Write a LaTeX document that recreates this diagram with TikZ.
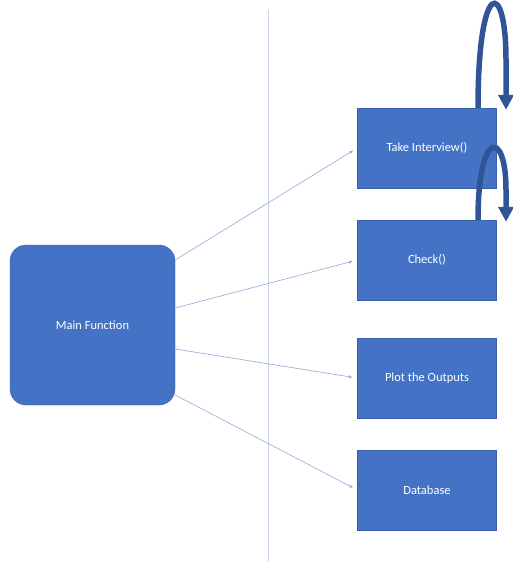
\documentclass[tikz,border=0pt]{standalone}
\usepackage{fontspec}
\setmainfont{Carlito}
\usetikzlibrary{positioning, arrows.meta}
\usepackage{xcolor}
\definecolor{officeBlue}{HTML}{4472C4}
\definecolor{officeDark}{HTML}{2F5597}
\definecolor{linkGrey}{HTML}{8FA9D6}
\definecolor{sepGrey}{HTML}{C9D3E3}

\begin{document}
\begin{tikzpicture}[
    x=1pt, y=-1pt,
    >={Stealth[length=4pt,width=3pt]},
    fnbox/.style={fill=officeBlue, draw=officeBlue!85!black, line width=0.4pt, minimum width=139pt, minimum height=80pt, text=white, font=\fontsize{12.5}{15}\selectfont, inner sep=0pt},
    mainbox/.style={fnbox, rounded corners=16pt, minimum width=165pt, minimum height=160pt},
    link/.style={->, draw=linkGrey, line width=0.6pt, shorten >=5pt},
    loop/.style={-{Triangle[length=15pt,width=15pt]}, draw=officeDark, fill=none, line width=5.5pt}
]
    \useasboundingbox (0,0) rectangle (513,562);

    % separator
    \coordinate (sepTop) at (268,10);
    \coordinate (sepBot) at (268,562);
    \draw[sepGrey, line width=0.6pt] (sepTop) -- (sepBot);

    \node[mainbox] (main) at (92.5,325) {Main Function};
    \node[fnbox] (interview) at (427,148) {Take Interview()};
    \node[fnbox] (check) at (427,260) {Check()};
    \node[fnbox] (plot) at (427,378) {Plot the Outputs};
    \node[fnbox] (db) at (427,490) {Database};

    \path ([yshift=65pt]main.east)  edge[link] (interview.west)
          ([yshift=17pt]main.east)  edge[link] (check.west)
          ([yshift=-24pt]main.east) edge[link] (plot.west)
          ([yshift=-70pt]main.east) edge[link] (db.west);

    % self loops
    \draw[loop] ([xshift=51pt]interview.north) .. controls +(0,-130) and +(0,-82) .. ++(28,-48) -- ++(0,50);
    \draw[loop] ([xshift=51pt]check.north) .. controls +(0,-91) and +(0,-61) .. ++(28,-30) -- ++(0,32);
\end{tikzpicture}
\end{document}
